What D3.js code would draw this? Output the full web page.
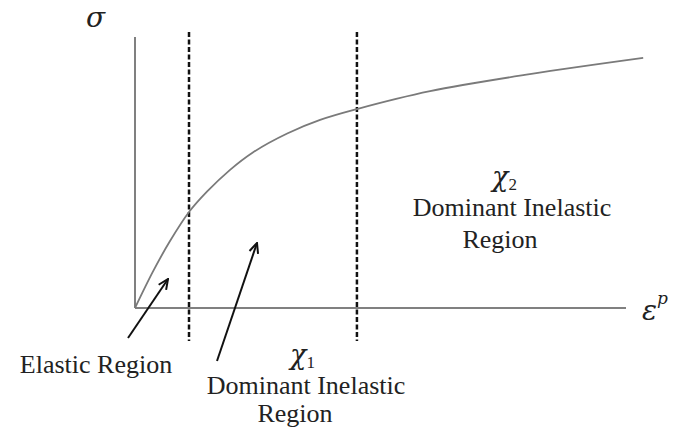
<!DOCTYPE html>
<html>
<head>
<meta charset="utf-8">
<script src="https://cdn.jsdelivr.net/npm/d3@7"></script>
<style>
  body { margin: 0; background: #fff; }
  text { font-family: "Liberation Serif", "Times New Roman", serif; fill: #222; }
  .greek { font-family: "DejaVu Serif", "Liberation Serif", serif; font-style: italic; }
</style>
</head>
<body>
<script>
// stress vs plastic strain (arbitrary units 0-100)
var strain = [0, 3.7, 7.1, 11.0, 14.7, 19.3, 24.0, 31.0, 37.7, 45.2, 60.1, 80.4, 103.5];
var stress = [0, 13.6, 24.6, 35.4, 43.0, 50.9, 57.4, 64.4, 69.4, 73.4, 80.0, 86.3, 92.3];
// region boundaries (dashed lines)
var boundaries = [11.0, 45.2];
var regionLabels = ["Elastic Region", "Dominant Inelastic", "Region"];

var width = 676, height = 432;

var svg = d3.select("body").append("svg")
  .attr("width", width).attr("height", height);

var x = d3.scaleLinear().domain([0, 100]).range([135, 626]);
var y = d3.scaleLinear().domain([0, 100]).range([308, 37]);

var defs = svg.append("defs");
defs.append("marker")
  .attr("id", "head")
  .attr("viewBox", "0 0 12 12")
  .attr("refX", 11).attr("refY", 6)
  .attr("markerWidth", 12).attr("markerHeight", 12)
  .attr("markerUnits", "userSpaceOnUse")
  .attr("orient", "auto")
  .append("path")
  .attr("d", "M1,1.5 L11,6 L1,10.5")
  .attr("fill", "none")
  .attr("stroke", "#111")
  .attr("stroke-width", 2);

// axes
svg.append("line")
  .attr("x1", x(0)).attr("x2", x(0))
  .attr("y1", y(0)).attr("y2", y(100))
  .attr("stroke", "#808080").attr("stroke-width", 2);
svg.append("line")
  .attr("x1", x(0)).attr("x2", x(100))
  .attr("y1", y(0)).attr("y2", y(0))
  .attr("stroke", "#808080").attr("stroke-width", 2);

// dashed boundaries
svg.selectAll(".bound").data(boundaries).enter().append("line")
  .attr("class", "bound")
  .attr("x1", function(d){ return x(d); })
  .attr("x2", function(d){ return x(d); })
  .attr("y1", y(101.8)).attr("y2", y(-12.2))
  .attr("stroke", "#111")
  .attr("stroke-width", 2.5)
  .attr("stroke-dasharray", "5,2.5");

// stress-strain curve
var pts = strain.map(function(s, i){ return [s, stress[i]]; });
var line = d3.line()
  .x(function(d){ return x(d[0]); })
  .y(function(d){ return y(d[1]); })
  .curve(d3.curveCatmullRom.alpha(0.5));
svg.append("path")
  .datum(pts)
  .attr("d", line)
  .attr("fill", "none")
  .attr("stroke", "#7a7a7a")
  .attr("stroke-width", 1.8);

// arrows
var arrows = [[128, 338, 168, 279], [217, 361, 257, 243]];
svg.selectAll(".arrow").data(arrows).enter().append("line")
  .attr("class", "arrow")
  .attr("x1", function(d){ return d[0]; })
  .attr("y1", function(d){ return d[1]; })
  .attr("x2", function(d){ return d[2]; })
  .attr("y2", function(d){ return d[3]; })
  .attr("stroke", "#111")
  .attr("stroke-width", 2)
  .attr("marker-end", "url(#head)");

// axis symbols
svg.append("text")
  .attr("class", "greek")
  .attr("x", 86).attr("y", 27)
  .style("font-size", "28px")
  .text("σ");

var eps = svg.append("text")
  .attr("class", "greek")
  .attr("x", 642).attr("y", 320)
  .style("font-size", "28px");
eps.append("tspan").text("ε");
eps.append("tspan").attr("dy", -16).style("font-size", "17px").text("p");

// chi labels
function chi(px, py, sub) {
  var t = svg.append("text").attr("x", px).attr("y", py);
  t.append("tspan").attr("class", "greek").style("font-size", "27px").text("χ");
  t.append("tspan").attr("dy", 4).style("font-size", "17px").text(sub);
}
chi(290, 364, "1");
chi(492, 186, "2");

// region labels
function label(px, py, txt) {
  svg.append("text").attr("x", px).attr("y", py)
    .attr("text-anchor", "middle")
    .style("font-size", "26px")
    .text(txt);
}
label(96, 373, regionLabels[0]);
label(306, 394, regionLabels[1]);
label(295, 422, regionLabels[2]);
label(512, 216, regionLabels[1]);
label(500, 248, regionLabels[2]);
</script>
</body>
</html>
